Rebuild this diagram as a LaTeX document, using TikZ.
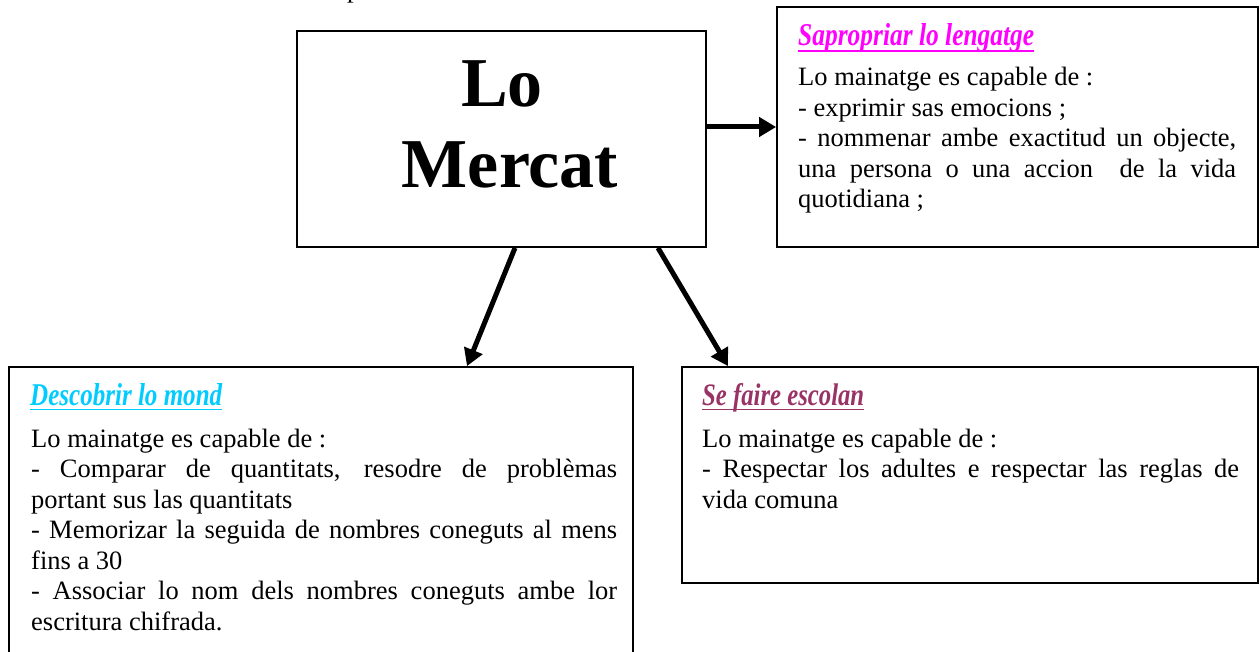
\documentclass[tikz,border=0pt]{standalone}
\usepackage{fontspec}
\setmainfont{Liberation Serif}
\usetikzlibrary{arrows.meta}
\definecolor{tmag}{RGB}{255,0,255}
\definecolor{tcyan}{RGB}{0,204,255}
\definecolor{tplum}{RGB}{153,51,102}
\newcommand{\bodyfont}{\fontsize{26.5}{30.5}\selectfont}
\newcommand{\jbox}[2]{\parbox[t]{#1}{\bodyfont\hyphenpenalty=10000\exhyphenpenalty=10000\emergencystretch=20pt #2}}
\newcommand{\ttltext}[2]{\resizebox{#1}{22pt}{\fontsize{25}{30}\selectfont\bfseries\itshape #2}}
\begin{document}
\begin{tikzpicture}[x=1pt,y=-1pt,
  box/.style={draw=black, line width=1.8pt, rectangle, inner sep=0pt},
  arr/.style={line width=5pt, -{Triangle[length=17pt,width=19pt]}},
  body/.style={anchor=base west, inner sep=0pt, font=\bodyfont},
  ttl/.style={anchor=base west, inner sep=0pt},
  mainfont/.style={anchor=base, inner sep=0pt, font=\fontsize{70}{81}\selectfont\bfseries},
  uline/.style={line width=1.8pt},
]
\useasboundingbox (0,0) rectangle (1260,652);
\clip (0,0) rectangle (1260,652);
\fill[white] (0,0) rectangle (1260,652);

% cut-off text fragment at the top
\node[body] (frag) at (347,-2.8) {p};

% boxes
\node[box, minimum width=409pt, minimum height=216pt] (main) at (501.5,139) {};
\node[box, minimum width=481pt, minimum height=240pt] (rt) at (1017.5,127) {};
\node[box, minimum width=624pt, minimum height=300pt] (lb) at (321,517) {};
\node[box, minimum width=576pt, minimum height=216pt] (rb) at (970,475) {};

% central title
\node[mainfont] (mlo) at (502,107) {Lo};
\node[mainfont] (mmer) at (510,188) {Mercat};

% titles
\node[ttl, text=tmag] (t1) at (798,46) {\ttltext{236pt}{Sapropriar lo lengatge}};
\draw[uline, tmag] ([yshift=-5pt]t1.base west) -- ([yshift=-5pt]t1.base east);
\node[ttl, text=tcyan] (t2) at (30,405) {\ttltext{192pt}{Descobrir lo mond}};
\draw[uline, tcyan] ([yshift=-4.5pt]t2.base west) -- ([yshift=-4.5pt]t2.base east);
\node[ttl, text=tplum] (t3) at (702,405) {\ttltext{162pt}{Se faire escolan}};
\draw[uline, tplum] ([yshift=-4.5pt]t3.base west) -- ([yshift=-4.5pt]t3.base east);

% body texts
\node[body] (b1) at (798,86) {\jbox{438pt}{Lo mainatge es capable de~:\par
- exprimir sas emocions~;\par
- nommenar ambe exactitud un objecte,\linebreak
una persona o una accion\ \ de la vida\linebreak
quotidiana~;}};

\node[body] (b2) at (31,447) {\jbox{586pt}{Lo mainatge es capable de~:\par
- Comparar de quantitats, resodre de problèmas\linebreak
portant sus las quantitats\par
- Memorizar la seguida de nombres coneguts al mens\linebreak
fins a 30\par
- Associar lo nom dels nombres coneguts ambe lor\linebreak
escritura chifrada.}};

\node[body] (b3) at (702,447) {\jbox{537pt}{Lo mainatge es capable de~:\par
- Respectar los adultes e respectar las reglas de\linebreak
vida comuna}};

% connectors
\draw[arr] (main.east |- rt.west) -- (rt.west);
\draw[arr] ([xshift=13.5pt]main.south) -- ([xshift=146pt]lb.north);
\draw[arr] ([xshift=156.5pt]main.south) -- ([xshift=-242pt]rb.north);
\end{tikzpicture}
\end{document}
